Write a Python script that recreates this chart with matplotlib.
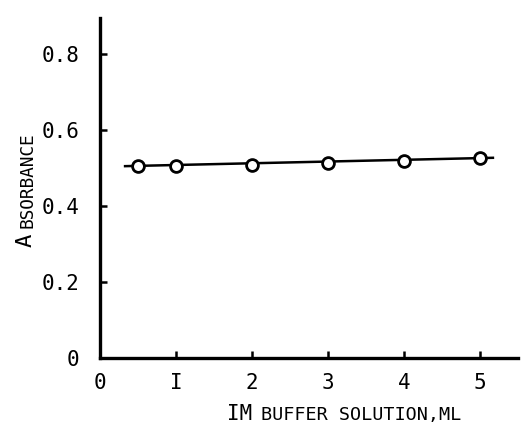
import matplotlib.pyplot as plt

# data
buffer_ml = [0.5, 1, 2, 3, 4, 5]
absorbance = [0.506, 0.506, 0.509, 0.514, 0.519, 0.526]

# drawn straight line (extends a bit past the points)
fit_x = [0.33, 5.17]
fit_y = [0.505, 0.527]

x_ticks = [0, 1, 2, 3, 4, 5]
x_tick_labels = ["0", "I", "2", "3", "4", "5"]
y_ticks = [0, 0.2, 0.4, 0.6, 0.8]
y_tick_labels = ["0", "0.2", "0.4", "0.6", "0.8"]

W, H = 530, 426
fig = plt.figure(figsize=(W / 100, H / 100), dpi=100)
ax = fig.add_axes([100 / W, 1 - 358 / H, 418 / W, 340 / H])

ax.plot(fit_x, fit_y, color='black', linewidth=1.8, zorder=2)
ax.plot(buffer_ml, absorbance, linestyle='none', marker='o', markersize=8.5,
        markerfacecolor='white', markeredgecolor='black', markeredgewidth=2,
        zorder=3)

ax.set_xlim(0, 5.5)
ax.set_ylim(0, 0.895)

for side in ['top', 'right']:
    ax.spines[side].set_visible(False)
for side in ['left', 'bottom']:
    ax.spines[side].set_linewidth(2.4)

mono = 'DejaVu Sans Mono'
ax.set_xticks(x_ticks)
ax.set_xticklabels(x_tick_labels, family=mono, fontsize=15)
ax.set_yticks(y_ticks)
ax.set_yticklabels(y_tick_labels, family=mono, fontsize=15)
ax.tick_params(axis='both', direction='in', length=5, width=1.8)
ax.tick_params(axis='x', pad=11)
ax.tick_params(axis='y', pad=15)

# small-caps style axis titles, built from two pieces each
fig.text(227 / W, 1 - 420 / H, "IM", family=mono, fontsize=15,
         ha='left', va='baseline')
fig.text(261 / W, 1 - 420 / H, "BUFFER SOLUTION,ML", family=mono, fontsize=13.3,
         ha='left', va='baseline')

fig.text(32 / W, 1 - 247 / H, "A", family=mono, fontsize=16, rotation=90,
         rotation_mode='anchor', ha='left', va='baseline')
fig.text(32 / W, 1 - 228 / H, "BSORBANCE", family=mono, fontsize=12.8,
         rotation=90, rotation_mode='anchor', ha='left', va='baseline')

fig.savefig('out.png', dpi=100)
